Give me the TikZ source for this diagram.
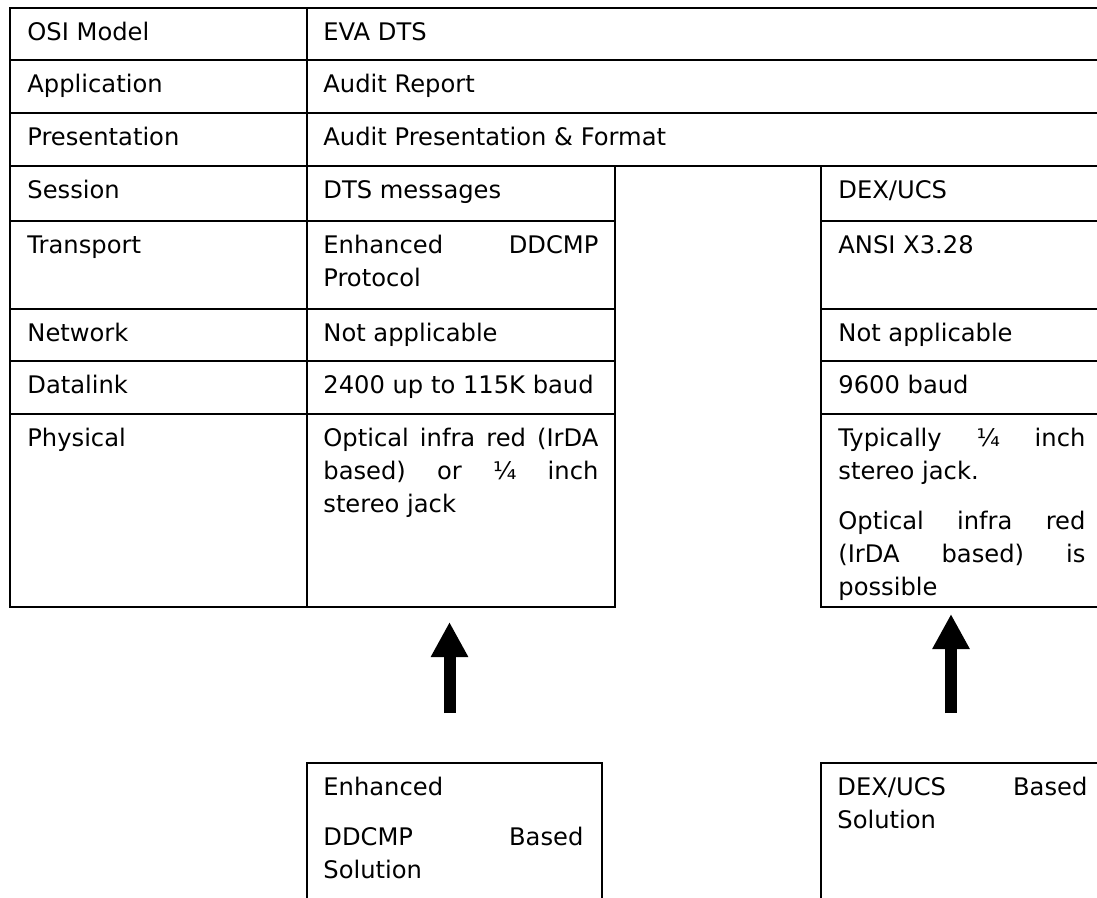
\documentclass[tikz,border=0pt]{standalone}
\usepackage{fontspec}
\setmainfont{DejaVu Sans}
\usetikzlibrary{arrows.meta}
\newcommand\cellfont{\fontsize{12.1pt}{16.5pt}\selectfont}
\setlength\parindent{0pt}
\hyphenpenalty=10000
\exhyphenpenalty=10000
\tolerance=10000
\hbadness=10000

\begin{document}
\begin{tikzpicture}[
      x=0.5pt, y=-0.5pt, % one unit = one pixel, y runs down
      rule/.style={line width=1.25pt, line cap=rect},
      cell/.style={anchor=north west, inner sep=0pt, yshift=-1.5pt, font=\cellfont, execute at begin node=\strut},
      para/.style={cell, text width=#1, align=justify}, % justified text block
      lift/.style={line width=6pt, -{Triangle[width=17.5pt, length=17.5pt]}}
    ]
    \useasboundingbox (0,0) rectangle (1097,898);
    % Upper table: full-width rows
    \foreach \y in {8,60,113,166}
      \draw [rule] (10,\y) -- (1097,\y);
    % Split rows (DTS part and DEX part)
    \foreach \y in {221,309,361,414,607} {
      \draw [rule] (10,\y) -- (615,\y);
      \draw [rule] (821,\y) -- (1097,\y);
    }
    \draw [rule] (10,8) -- (10,607);
    \draw [rule] (307,8) -- (307,607);
    \draw [rule] (615,166) -- (615,607);
    \draw [rule] (821,166) -- (821,607);

    % OSI layers
    \node [cell] (osi)   at (27,14)  {OSI Model};
    \node [cell] (app)   at (27,66)  {Application};
    \node [cell] (pres)  at (27,119) {Presentation};
    \node [cell] (sess)  at (27,172) {Session};
    \node [cell] (trans) at (27,227) {Transport};
    \node [cell] (net)   at (27,315) {Network};
    \node [cell] (link)  at (27,367) {Datalink};
    \node [cell] (phys)  at (27,420) {Physical};

    % EVA DTS column
    \node [cell] (eva)    at (323,14)  {EVA DTS};
    \node [cell] (report) at (323,66)  {Audit Report};
    \node [cell] (format) at (323,119) {Audit Presentation \& Format};
    \node [cell] (dtssess) at (323,172) {DTS messages};
    \node [para=137.5pt] (dtstrans) at (323,227) {Enhanced DDCMP\linebreak Protocol};
    \node [cell] (dtsnet)  at (323,315) {Not applicable};
    \node [cell] (dtslink) at (323,367) {2400 up to 115K baud};
    \node [para=137.5pt] (dtsphys) at (323,420) {Optical infra red (IrDA\linebreak based) or ¼ inch\linebreak stereo jack};

    % DEX/UCS column
    \node [cell] (dexsess)  at (838,172) {DEX/UCS};
    \node [cell] (dextrans) at (838,227) {ANSI X3.28};
    \node [cell] (dexnet)   at (838,315) {Not applicable};
    \node [cell] (dexlink)  at (838,367) {9600 baud};
    \node [para=123.5pt] (dexphys) at (838,420) {Typically ¼ inch\linebreak stereo jack.\par\vspace{8.5pt}Optical infra red\linebreak (IrDA based) is\linebreak possible};

    % Solution boxes (open at the bottom)
    \draw [rule] (307,898) -- (307,763) -- (602,763) -- (602,898);
    \draw [rule] (821,898) -- (821,763) -- (1097,763);
    \node [para=130pt] (ddcmpsol) at (323,769) {Enhanced\par\vspace{8.5pt}DDCMP Based\linebreak Solution};
    \node [para=125pt] (dexsol)   at (837,769) {DEX/UCS Based\linebreak Solution};

    % Arrows up to the stacks
    \coordinate (ddcmpfoot) at (449.5,713);
    \coordinate (ddcmptip)  at (449.5,622);
    \coordinate (dexfoot)   at (951,713);
    \coordinate (dextip)    at (951,614);
    \draw [lift] (ddcmpfoot) -- (ddcmptip);
    \draw [lift] (dexfoot) -- (dextip);
\end{tikzpicture}
\end{document}
